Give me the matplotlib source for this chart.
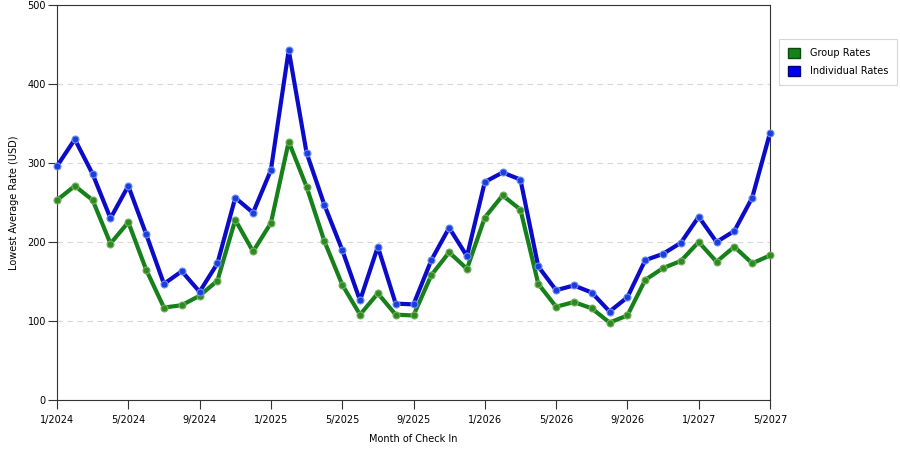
import matplotlib
matplotlib.use('Agg')
import matplotlib.pyplot as plt
from matplotlib.patches import Patch

plt.rcParams['font.family'] = ['DejaVu Sans']

months = ['1/2024', '2/2024', '3/2024', '4/2024', '5/2024', '6/2024', '7/2024', '8/2024',
          '9/2024', '10/2024', '11/2024', '12/2024', '1/2025', '2/2025', '3/2025', '4/2025',
          '5/2025', '6/2025', '7/2025', '8/2025', '9/2025', '10/2025', '11/2025', '12/2025',
          '1/2026', '2/2026', '3/2026', '4/2026', '5/2026', '6/2026', '7/2026', '8/2026',
          '9/2026', '10/2026', '11/2026', '12/2026', '1/2027', '2/2027', '3/2027', '4/2027',
          '5/2027']
group_rates = [253, 271, 253, 198, 225, 165, 117, 120, 132, 151, 228, 188, 224, 327, 270, 201,
               146, 108, 135, 108, 107, 158, 187, 166, 231, 259, 241, 147, 118, 124, 116, 98,
               107, 152, 167, 176, 200, 175, 194, 173, 183]
individual_rates = [296, 330, 286, 230, 271, 210, 147, 163, 137, 173, 256, 237, 291, 443, 313, 247,
                    190, 126, 194, 122, 121, 177, 218, 182, 276, 288, 279, 169, 139, 145, 136, 112,
                    130, 177, 185, 199, 232, 200, 214, 256, 338]
tick_labels = months[::4]

fig = plt.figure(figsize=(9, 4.5), dpi=100)
ax = fig.add_axes([57 / 900, 50 / 450, 713 / 900, 395 / 450])

x = list(range(len(months)))
green = '#16801a'
blue = '#0c0cc8'
ax.plot(x, group_rates, color=green, lw=3, marker='o', ms=5,
        mfc='#2e8a22', mec='#78b060', mew=0.8, zorder=3, clip_on=False)
ax.plot(x, individual_rates, color=blue, lw=3, marker='o', ms=5,
        mfc='#1a3ee0', mec='#6f8ff0', mew=0.8, zorder=4, clip_on=False)

ax.set_xlim(0, len(months) - 1)
ax.set_ylim(0, 500)
ax.set_xticks(x[::4])
ax.set_xticklabels(tick_labels, fontsize=7)
ax.set_yticks(range(0, 501, 100))
ax.tick_params(axis='both', labelsize=7, length=6.5, color='#333333')
ax.tick_params(axis='x', pad=4)
ax.tick_params(axis='y', pad=1.5)
for s in ax.spines.values():
    s.set_color('#333333')
ax.grid(axis='y', ls=(0, (5, 4)), color='#d8d8d8', lw=0.8)
ax.set_axisbelow(True)
ax.set_xlabel('Month of Check In', fontsize=7, labelpad=6.5)
ax.set_ylabel('Lowest Average Rate (USD)', fontsize=7, labelpad=6)

handles = [Patch(facecolor=green, edgecolor='#0a4a0a', label='Group Rates'),
           Patch(facecolor='#0000ee', edgecolor='#00007a', label='Individual Rates')]
leg = fig.legend(handles=handles, loc='upper left', bbox_to_anchor=(779 / 900, 1 - 39 / 450),
                 fontsize=7, frameon=True, fancybox=False, handlelength=1.25, handleheight=1.25,
                 borderpad=0.9, labelspacing=0.8, handletextpad=1.0, borderaxespad=0)
leg.get_frame().set_edgecolor('#cccccc')
leg.get_frame().set_linewidth(0.8)

fig.savefig('out.png', dpi=100)
